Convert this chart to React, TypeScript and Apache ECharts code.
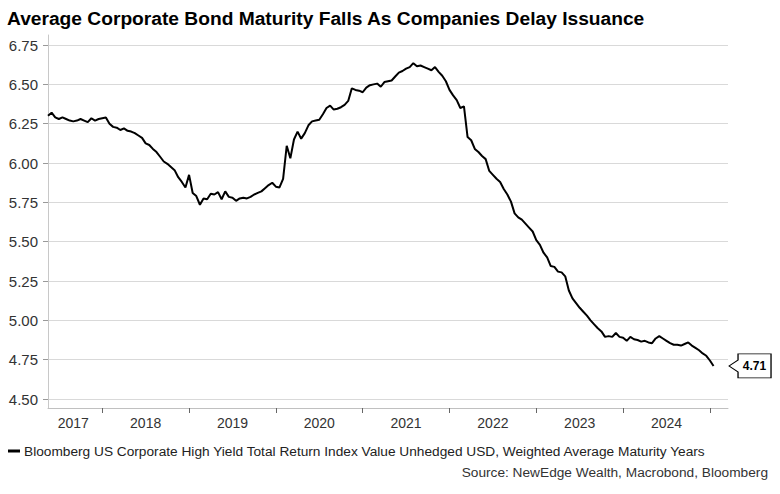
import React, { useEffect, useRef } from "react";
import * as echarts from "echarts";

const TITLE = "Average Corporate Bond Maturity Falls As Companies Delay Issuance";
const SERIES_NAME =
  "Bloomberg US Corporate High Yield Total Return Index Value Unhedged USD, Weighted Average Maturity Years";
const SOURCE = "Source: NewEdge Wealth, Macrobond, Bloomberg";

// semi-monthly observations (1st and 16th of each month), starting 2017-05-16
const v2017 = [6.3, 6.32, 6.29, 6.28, 6.29, 6.28, 6.27, 6.265, 6.27, 6.28, 6.27, 6.26, 6.285, 6.27, 6.28];
const v2018 = [
  6.285, 6.29, 6.25, 6.23, 6.225, 6.21, 6.22, 6.205, 6.2, 6.19, 6.175, 6.16,
  6.125, 6.115, 6.09, 6.07, 6.04, 6.01, 5.995, 5.975, 5.955, 5.91, 5.88, 5.845,
];
const v2019 = [
  5.925, 5.81, 5.79, 5.735, 5.775, 5.77, 5.805, 5.8, 5.815, 5.77, 5.82, 5.785,
  5.78, 5.76, 5.775, 5.78, 5.775, 5.785, 5.8, 5.81, 5.82, 5.84, 5.86, 5.875,
];
const v2020 = [
  5.85, 5.845, 5.9, 6.11, 6.03, 6.15, 6.2, 6.155, 6.19, 6.24, 6.265, 6.27,
  6.275, 6.31, 6.35, 6.365, 6.34, 6.345, 6.355, 6.37, 6.395, 6.475, 6.465, 6.46,
];
const v2021 = [
  6.45, 6.48, 6.495, 6.5, 6.505, 6.485, 6.515, 6.52, 6.525, 6.55, 6.575, 6.585,
  6.6, 6.61, 6.635, 6.615, 6.62, 6.61, 6.6, 6.59, 6.61, 6.58, 6.555, 6.52,
];
const v2022 = [
  6.465, 6.43, 6.4, 6.35, 6.36, 6.165, 6.145, 6.09, 6.07, 6.045, 6.025, 5.95,
  5.925, 5.9, 5.88, 5.835, 5.8, 5.755, 5.68, 5.655, 5.64, 5.615, 5.59, 5.565,
];
const v2023 = [
  5.51, 5.48, 5.43, 5.4, 5.345, 5.34, 5.31, 5.305, 5.28, 5.19, 5.14, 5.11,
  5.08, 5.055, 5.03, 5.0, 4.975, 4.95, 4.93, 4.895, 4.9, 4.895, 4.92, 4.895,
];
const v2024 = [
  4.89, 4.87, 4.895, 4.88, 4.875, 4.865, 4.87, 4.86, 4.855, 4.885, 4.9, 4.885,
  4.87, 4.855, 4.845, 4.845, 4.84, 4.85, 4.86, 4.84, 4.825, 4.81, 4.79, 4.775,
];
const v2025 = [4.745, 4.71];

const Y_TICKS = [4.5, 4.75, 5.0, 5.25, 5.5, 5.75, 6.0, 6.25, 6.5, 6.75];
const YEAR_LABEL_ANCHORS = [
  "2017-09-01", "2018-07-01", "2019-07-01", "2020-07-01",
  "2021-07-01", "2022-07-01", "2023-07-01", "2024-07-01",
];

function buildDates(): string[] {
  const out: string[] = [];
  let y = 2017;
  let m = 5;
  let half = 1; // 0 => 1st, 1 => 16th
  while (true) {
    const s = `${y}-${String(m).padStart(2, "0")}-${half ? "16" : "01"}`;
    out.push(s);
    if (s === "2025-03-16") break;
    if (half) {
      half = 0;
      m += 1;
      if (m > 12) {
        m = 1;
        y += 1;
      }
    } else {
      half = 1;
    }
  }
  return out;
}

export default function App() {
  const ref = useRef<HTMLDivElement>(null);

  useEffect(() => {
    if (!ref.current) return;
    const chart = echarts.init(ref.current, undefined, { renderer: "svg" });
    const dates = buildDates();
    const values = [...v2017, ...v2018, ...v2019, ...v2020, ...v2021, ...v2022, ...v2023, ...v2024, ...v2025];
    const data: (number | null)[] = dates.map((_, i) => (i < values.length ? values[i] : null));
    const lastIdx = values.length - 1;
    const lastVal = values[lastIdx];
    const font = "'Liberation Sans', Arial, sans-serif";

    chart.setOption({
      animation: false,
      textStyle: { fontFamily: font },
      title: [
        {
          text: TITLE,
          left: 7,
          top: 9,
          padding: 0,
          textStyle: { fontSize: 19.2, fontWeight: "bold", color: "#000", fontFamily: font },
        },
        {
          text: SOURCE,
          right: 12,
          top: 465,
          padding: 0,
          textStyle: { fontSize: 13.7, fontWeight: "normal", color: "#333", fontFamily: font },
        },
      ],
      legend: {
        left: 8,
        top: 444,
        padding: 0,
        itemWidth: 12,
        itemHeight: 3,
        itemGap: 5,
        icon: "rect",
        data: [{ name: SERIES_NAME, itemStyle: { color: "#000" } }],
        textStyle: { fontSize: 13.7, color: "#222", fontFamily: font, padding: [0, 0, 0, -1] },
        selectedMode: false,
      },
      grid: { left: 48, right: 52, top: 35, bottom: 86, containLabel: false },
      xAxis: {
        type: "category",
        data: dates,
        boundaryGap: false,
        axisLine: { show: true, lineStyle: { color: "#c0c0c0", width: 1 } },
        axisTick: {
          show: true,
          length: 5,
          interval: (_i: number, v: string) => v.endsWith("-01-01"),
          lineStyle: { color: "#666" },
        },
        axisLabel: {
          interval: (_i: number, v: string) => YEAR_LABEL_ANCHORS.indexOf(v) >= 0,
          formatter: (v: string) => v.slice(0, 4),
          fontSize: 14,
          color: "#333",
          margin: 8,
          fontFamily: font,
        },
        splitLine: { show: false },
      },
      yAxis: {
        type: "value",
        min: 4.443,
        max: 6.814,
        axisLine: { show: true, lineStyle: { color: "#c8c8c8" } },
        axisTick: { show: true, length: 5, customValues: Y_TICKS, lineStyle: { color: "#999" } },
        axisLabel: {
          customValues: Y_TICKS,
          formatter: (v: number) => v.toFixed(2),
          fontSize: 15,
          color: "#333",
          margin: 10,
          fontFamily: font,
        },
        splitLine: { show: true, lineStyle: { color: "#d9d9d9", width: 1 } },
      },
      series: [
        {
          name: SERIES_NAME,
          type: "line",
          data,
          symbol: "none",
          silent: true,
          connectNulls: false,
          lineStyle: { color: "#000", width: 2 },
          itemStyle: { color: "#000" },
          markPoint: {
            silent: true,
            symbol: "path://M0,12L9,6L9,0L42,0L42,24L9,24L9,18Z",
            symbolSize: [42, 24],
            symbolOffset: [36.5, 0],
            itemStyle: { color: "#fff", borderColor: "#000", borderWidth: 1 },
            label: {
              show: true,
              position: "inside",
              offset: [4.5, 0],
              formatter: (p: any) => Number(p.value).toFixed(2),
              fontSize: 12,
              fontWeight: "bold",
              color: "#000",
              fontFamily: font,
            },
            data: [{ coord: [dates[lastIdx], lastVal], value: lastVal }],
          },
        },
      ],
    });

    return () => chart.dispose();
  }, []);

  return (
    <div
      ref={ref}
      style={{ position: "fixed", left: 0, top: 0, width: 780, height: 494, background: "#fff" }}
    />
  );
}
